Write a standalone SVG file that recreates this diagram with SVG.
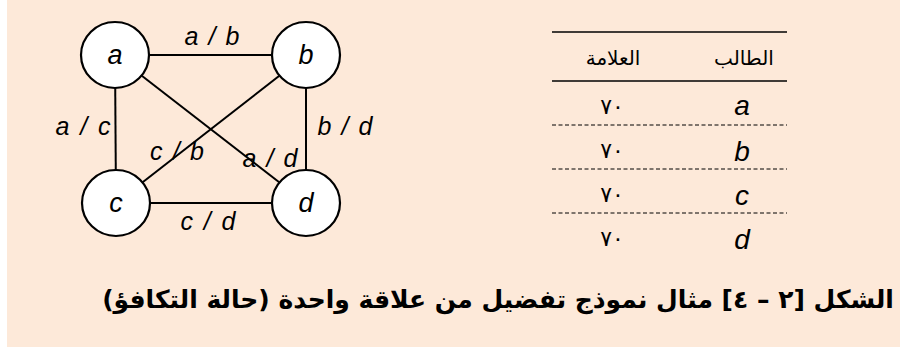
<svg xmlns="http://www.w3.org/2000/svg" width="902" height="347" viewBox="0 0 902 347">
<style>
.bg{fill:#FDE9D9}
.node ellipse{fill:#ffffff;stroke:#000;stroke-width:2.2}
.edge{stroke:#000;stroke-width:2;fill:none}
.nl{font-family:"Liberation Sans",Arial,sans-serif;font-style:italic;font-size:27px;text-anchor:middle;fill:#000}
.el{font-family:"Liberation Sans",Arial,sans-serif;font-style:italic;font-size:25px;text-anchor:middle;fill:#000}
.tl{font-family:"Liberation Sans",Arial,sans-serif;font-style:italic;font-size:28px;text-anchor:middle;fill:#000}
.ar{font-family:"DejaVu Sans","Noto Sans",sans-serif;font-size:20px;text-anchor:middle;fill:#000}
.num{font-family:"DejaVu Sans","Noto Sans",sans-serif;font-size:22px;text-anchor:middle;fill:#000;letter-spacing:3px}
.cap{font-family:"DejaVu Sans","Noto Sans",sans-serif;font-weight:bold;font-size:25px;text-anchor:middle;fill:#000}
.rule{stroke:#000;stroke-width:1.3}
.dash{stroke:#000;stroke-width:1;stroke-dasharray:4 2.5}
</style>
<rect class="bg" x="7" y="0" width="893" height="347"/>
<g id="connectors">
<line class="edge" x1="115" y1="55" x2="306" y2="55"/>
<line class="edge" x1="115" y1="55" x2="116" y2="203"/>
<line class="edge" x1="306" y1="55" x2="306" y2="203"/>
<line class="edge" x1="116" y1="203" x2="306" y2="203"/>
<line class="edge" x1="115" y1="55" x2="306" y2="203"/>
<line class="edge" x1="306" y1="55" x2="116" y2="203"/>
<text class="el" x="212" y="45" textLength="55" lengthAdjust="spacing">a / b</text>
<text class="el" x="83" y="135" textLength="55" lengthAdjust="spacing">a / c</text>
<text class="el" x="345" y="135" textLength="55" lengthAdjust="spacing">b / d</text>
<text class="el" x="177" y="160" textLength="54" lengthAdjust="spacing">c / b</text>
<text class="el" x="270" y="167" textLength="55" lengthAdjust="spacing">a / d</text>
<text class="el" x="208" y="230" textLength="55" lengthAdjust="spacing">c / d</text>
</g>
<g id="node-a" class="node"><ellipse cx="115" cy="55" rx="34" ry="33"/><text class="nl" x="115" y="64">a</text></g>
<g id="node-b" class="node"><ellipse cx="306" cy="55" rx="34" ry="33"/><text class="nl" x="306" y="64">b</text></g>
<g id="node-c" class="node"><ellipse cx="116" cy="203" rx="34" ry="33"/><text class="nl" x="116" y="212">c</text></g>
<g id="node-d" class="node"><ellipse cx="306" cy="203" rx="34" ry="33"/><text class="nl" x="306" y="212">d</text></g>
<g id="table">
<line class="rule" x1="552" y1="32" x2="787" y2="32"/>
<line class="rule" x1="552" y1="81" x2="787" y2="81"/>
<line class="dash" x1="552" y1="125" x2="787" y2="125"/>
<line class="dash" x1="552" y1="169" x2="787" y2="169"/>
<line class="dash" x1="552" y1="213" x2="787" y2="213"/>
<text class="ar" x="613" y="65" direction="rtl">العلامة</text>
<text class="ar" x="744" y="65" direction="rtl">الطالب</text>
<text class="num" x="612" y="114">٧٠</text>
<text class="num" x="612" y="158">٧٠</text>
<text class="num" x="612" y="202">٧٠</text>
<text class="num" x="612" y="246">٧٠</text>
<text class="tl" x="742" y="115">a</text>
<text class="tl" x="742" y="161">b</text>
<text class="tl" x="742" y="205">c</text>
<text class="tl" x="742" y="249">d</text>
</g>
<text class="cap" x="498" y="308" direction="rtl">الشكل [٢ – ٤] مثال نموذج تفضيل من علاقة واحدة (حالة التكافؤ)</text>
</svg>
